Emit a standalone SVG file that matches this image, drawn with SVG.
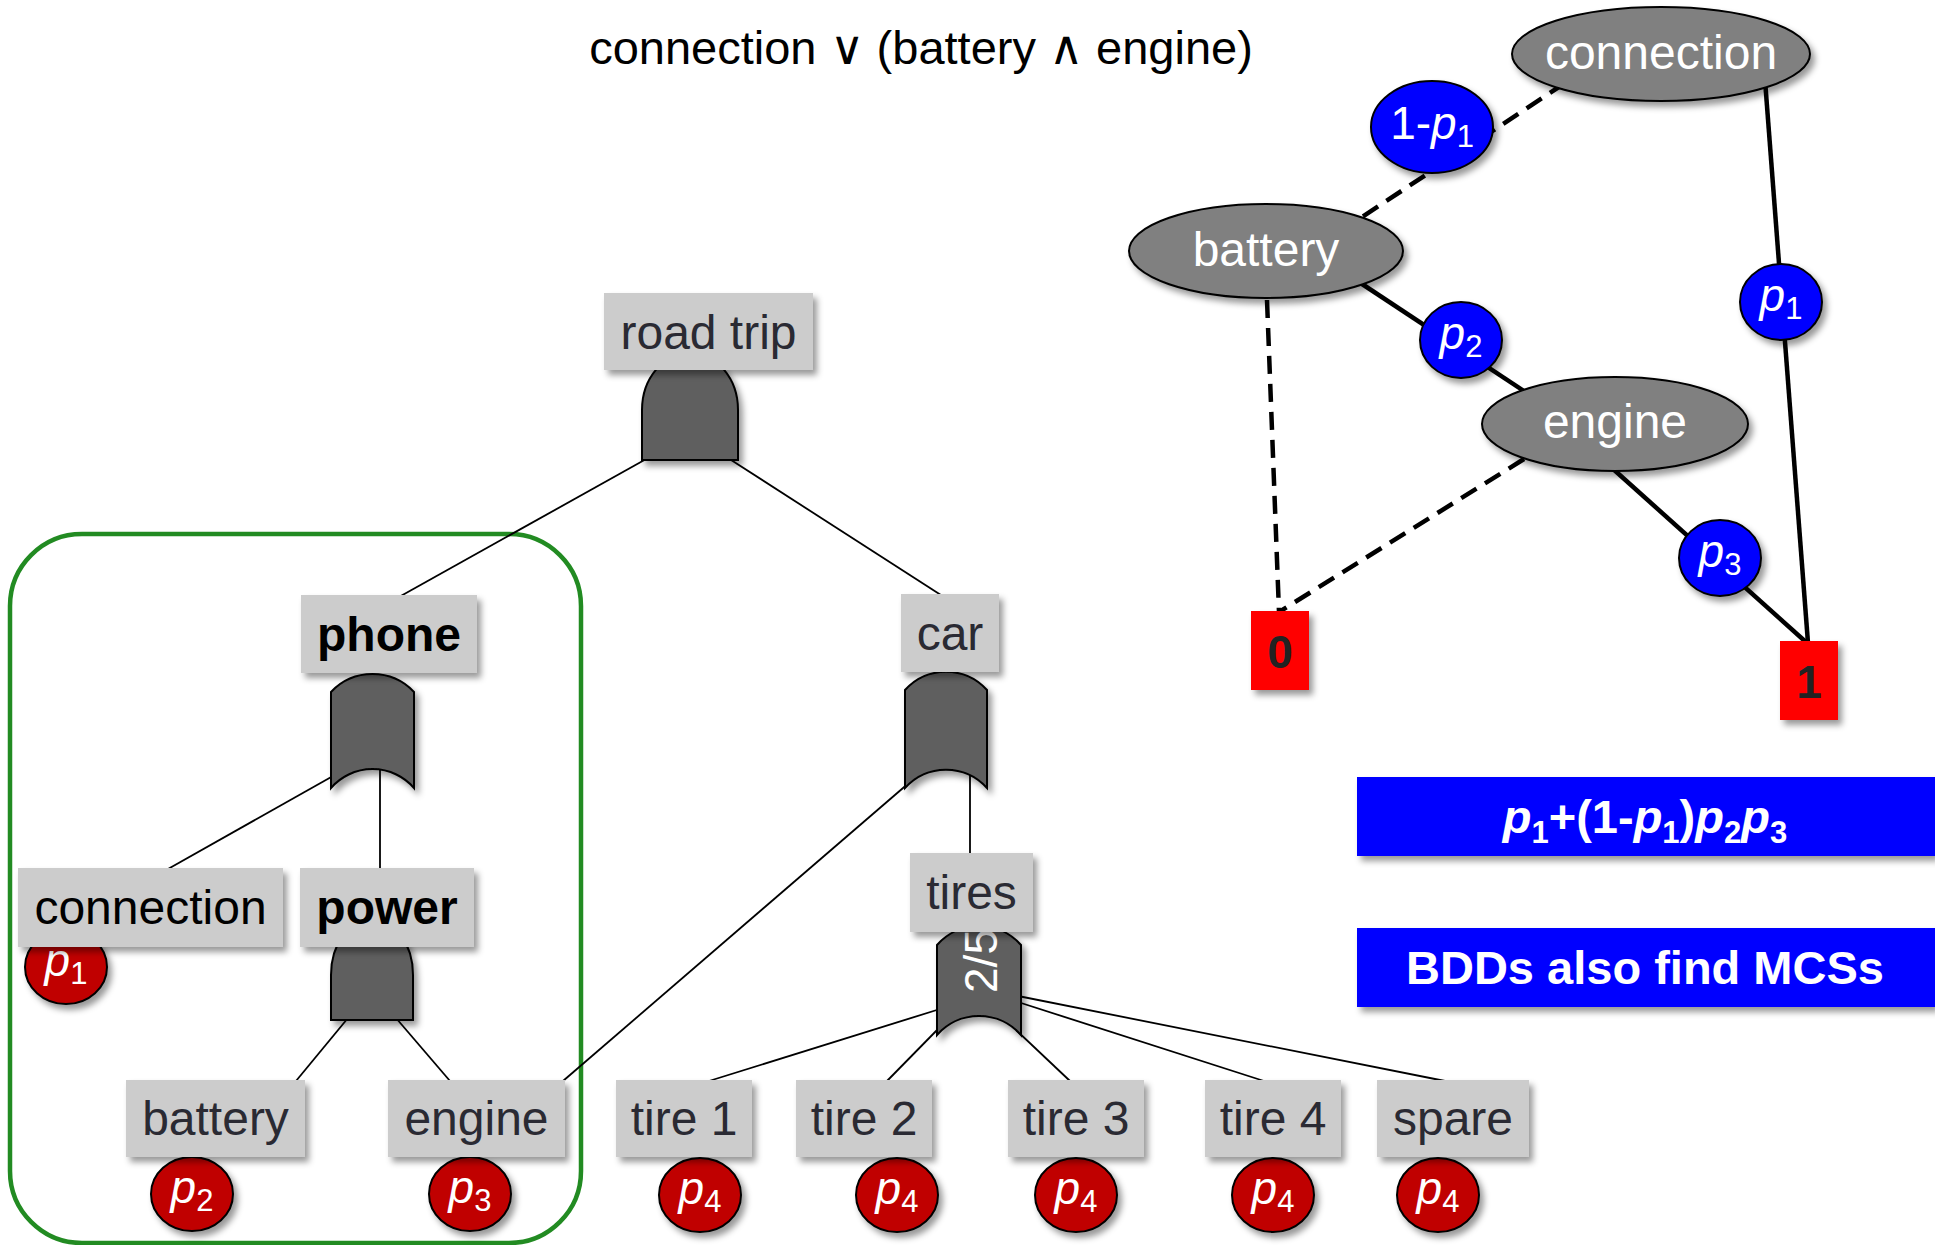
<svg xmlns="http://www.w3.org/2000/svg" width="1935" height="1245" viewBox="0 0 1935 1245">
  <defs>
    <filter id="shadow" x="-20%" y="-20%" width="150%" height="160%">
      <feDropShadow dx="4" dy="5" stdDeviation="3" flood-color="#000" flood-opacity="0.4"/>
    </filter>
  </defs>
  <style>
    text { font-family: "Liberation Sans", Arial, sans-serif; }
    .lbl { fill: #cccccc; filter: url(#shadow); }
    .lbltxt { font-size: 48px; fill: #2a2a33; text-anchor: middle; }
    .bold { font-weight: bold; fill: #000; }
    .gate { fill: #5f5f5f; stroke: #000; stroke-width: 2; filter: url(#shadow); }
    .ft { stroke: #000; stroke-width: 1.8; fill: none; }
    .basic { fill: #c00000; stroke: #000; stroke-width: 2; filter: url(#shadow); }
    .ptxt { font-size: 46px; fill: #fff; text-anchor: middle; }
    .pi { font-style: italic; }
    .sub { font-size: 31px; }
    .bddnode { fill: #808080; stroke: #000; stroke-width: 2; filter: url(#shadow); }
    .bddtxt { font-size: 48px; fill: #fff; text-anchor: middle; }
    .prob { fill: #0000ff; stroke: #000; stroke-width: 2; filter: url(#shadow); }
    .hi { stroke: #000; stroke-width: 4.5; fill: none; }
    .lo { stroke: #000; stroke-width: 4.5; fill: none; stroke-dasharray: 18 10; }
    .term { fill: #ff0000; filter: url(#shadow); }
    .termtxt { font-size: 46px; font-weight: bold; fill: #222; text-anchor: middle; }
    .note { fill: #0000ff; filter: url(#shadow); }
    .notetxt { font-size: 47px; font-weight: bold; fill: #fff; text-anchor: middle; }
    .module { fill: none; stroke: #228b22; stroke-width: 4.5; }
  </style>

  <rect width="1935" height="1245" fill="#fff"/>

  <!-- formula heading -->
  <text id="title" x="921" y="64" font-size="47" fill="#000" text-anchor="middle">connection ∨ (battery ∧ engine)</text>

  <!-- module boundary around the phone subtree -->
  <rect id="phone-module" class="module" x="10" y="534" width="571" height="709" rx="72" ry="72"/>

  <!-- fault tree connectors -->
  <g id="ft-connectors">
    <line class="ft" x1="648" y1="458" x2="399" y2="597"/>
    <line class="ft" x1="728" y1="458" x2="944" y2="597"/>
    <line class="ft" x1="333" y1="776" x2="168" y2="869"/>
    <line class="ft" x1="380" y1="770" x2="380" y2="869"/>
    <line class="ft" x1="348" y1="1018" x2="296" y2="1081"/>
    <line class="ft" x1="396" y1="1018" x2="450" y2="1081"/>
    <line class="ft" x1="910" y1="782" x2="563" y2="1081"/>
    <line class="ft" x1="970" y1="770" x2="970" y2="854"/>
    <line class="ft" x1="940" y1="1009" x2="709" y2="1081"/>
    <line class="ft" x1="940" y1="1027" x2="887" y2="1081"/>
    <line class="ft" x1="1016" y1="1030" x2="1070" y2="1081"/>
    <line class="ft" x1="1018" y1="1002" x2="1264" y2="1081"/>
    <line class="ft" x1="1018" y1="996" x2="1445" y2="1081"/>
  </g>

  <!-- BDD edges: solid = high branch, dashed = low branch -->
  <g id="bdd-connectors">
    <line class="lo" x1="1565" y1="83" x2="1356" y2="221"/>
    <line class="hi" x1="1765" y1="80" x2="1808" y2="643"/>
    <line class="hi" x1="1356" y1="280" x2="1530" y2="395"/>
    <line class="lo" x1="1267" y1="300" x2="1279" y2="612"/>
    <line class="lo" x1="1524" y1="459" x2="1279" y2="612"/>
    <line class="hi" x1="1612" y1="468" x2="1807" y2="643"/>
  </g>

  <!-- fault tree nodes -->
  <g id="road-trip">
    <path class="gate" d="M642,460 L642,410 A48,57 0 0 1 738,410 L738,460 Z"/>
    <rect class="lbl" x="604" y="293" width="209" height="77"/>
    <text class="lbltxt" x="708.5" y="349">road trip</text>
  </g>

  <g id="phone">
    <path class="gate" d="M331,692 A57,57 0 0 1 414,692 L414,788 A55,55 0 0 0 331,788 Z"/>
    <rect class="lbl" x="301" y="595" width="176" height="78"/>
    <text class="lbltxt bold" x="389" y="651">phone</text>
  </g>

  <g id="connection">
    <ellipse class="basic" cx="66" cy="967" rx="41" ry="37"/>
    <text class="ptxt" x="66" y="976"><tspan class="pi">p</tspan><tspan class="sub" dy="8">1</tspan></text>
    <rect class="lbl" x="18" y="868" width="265" height="79"/>
    <text class="lbltxt" x="150.5" y="924" style="fill:#000">connection</text>
  </g>

  <g id="power">
    <path class="gate" d="M331,1020 L331,975 A41,56 0 0 1 413,975 L413,1020 Z"/>
    <rect class="lbl" x="300" y="868" width="174" height="79"/>
    <text class="lbltxt bold" x="387" y="924">power</text>
  </g>

  <g id="battery">
    <ellipse class="basic" cx="192" cy="1194" rx="41" ry="37"/>
    <text class="ptxt" x="192" y="1203"><tspan class="pi">p</tspan><tspan class="sub" dy="8">2</tspan></text>
    <rect class="lbl" x="126" y="1080" width="179" height="77"/>
    <text class="lbltxt" x="215.5" y="1135">battery</text>
  </g>

  <g id="engine">
    <ellipse class="basic" cx="470" cy="1194" rx="41" ry="37"/>
    <text class="ptxt" x="470" y="1203"><tspan class="pi">p</tspan><tspan class="sub" dy="8">3</tspan></text>
    <rect class="lbl" x="388" y="1080" width="177" height="77"/>
    <text class="lbltxt" x="476.5" y="1135">engine</text>
  </g>

  <g id="car">
    <path class="gate" d="M905,690 A55,55 0 0 1 987,690 L987,788 A55,55 0 0 0 905,788 Z"/>
    <rect class="lbl" x="901" y="594" width="98" height="78"/>
    <text class="lbltxt" x="950" y="650">car</text>
  </g>

  <g id="tires">
    <path class="gate" d="M937,945 A56,56 0 0 1 1021,945 L1021,1035 A56,56 0 0 0 937,1035 Z"/>
    <text transform="translate(997,961) rotate(-90)" font-size="46" fill="#fff" text-anchor="middle">2/5</text>
    <rect class="lbl" x="910" y="853" width="123" height="79"/>
    <text class="lbltxt" x="971.5" y="909">tires</text>
  </g>

  <g id="tire-1">
    <ellipse class="basic" cx="700" cy="1195" rx="41" ry="37"/>
    <text class="ptxt" x="700" y="1204"><tspan class="pi">p</tspan><tspan class="sub" dy="8">4</tspan></text>
    <rect class="lbl" x="616" y="1080" width="136" height="77"/>
    <text class="lbltxt" x="684" y="1135">tire 1</text>
  </g>

  <g id="tire-2">
    <ellipse class="basic" cx="897" cy="1195" rx="41" ry="37"/>
    <text class="ptxt" x="897" y="1204"><tspan class="pi">p</tspan><tspan class="sub" dy="8">4</tspan></text>
    <rect class="lbl" x="796" y="1080" width="136" height="77"/>
    <text class="lbltxt" x="864" y="1135">tire 2</text>
  </g>

  <g id="tire-3">
    <ellipse class="basic" cx="1076" cy="1195" rx="41" ry="37"/>
    <text class="ptxt" x="1076" y="1204"><tspan class="pi">p</tspan><tspan class="sub" dy="8">4</tspan></text>
    <rect class="lbl" x="1008" y="1080" width="136" height="77"/>
    <text class="lbltxt" x="1076" y="1135">tire 3</text>
  </g>

  <g id="tire-4">
    <ellipse class="basic" cx="1273" cy="1195" rx="41" ry="37"/>
    <text class="ptxt" x="1273" y="1204"><tspan class="pi">p</tspan><tspan class="sub" dy="8">4</tspan></text>
    <rect class="lbl" x="1205" y="1080" width="136" height="77"/>
    <text class="lbltxt" x="1273" y="1135">tire 4</text>
  </g>

  <g id="spare">
    <ellipse class="basic" cx="1438" cy="1195" rx="41" ry="37"/>
    <text class="ptxt" x="1438" y="1204"><tspan class="pi">p</tspan><tspan class="sub" dy="8">4</tspan></text>
    <rect class="lbl" x="1377" y="1080" width="152" height="77"/>
    <text class="lbltxt" x="1453" y="1135">spare</text>
  </g>

  <!-- BDD nodes -->
  <g id="bdd-connection">
    <ellipse class="bddnode" cx="1661" cy="54" rx="149" ry="47"/>
    <text class="bddtxt" x="1661" y="69">connection</text>
  </g>
  <g id="bdd-battery">
    <ellipse class="bddnode" cx="1266" cy="251" rx="137" ry="47"/>
    <text class="bddtxt" x="1266" y="266">battery</text>
  </g>
  <g id="bdd-engine">
    <ellipse class="bddnode" cx="1615" cy="424" rx="133" ry="47"/>
    <text class="bddtxt" x="1615" y="438">engine</text>
  </g>

  <!-- branch probabilities -->
  <g id="prob-not-p1">
    <ellipse class="prob" cx="1432" cy="127" rx="61" ry="46"/>
    <text class="ptxt" x="1432" y="139">1-<tspan class="pi">p</tspan><tspan class="sub" dy="8">1</tspan></text>
  </g>
  <g id="prob-p1">
    <ellipse class="prob" cx="1781" cy="302" rx="41" ry="38"/>
    <text class="ptxt" x="1781" y="311"><tspan class="pi">p</tspan><tspan class="sub" dy="8">1</tspan></text>
  </g>
  <g id="prob-p2">
    <ellipse class="prob" cx="1461" cy="340" rx="41" ry="38"/>
    <text class="ptxt" x="1461" y="349"><tspan class="pi">p</tspan><tspan class="sub" dy="8">2</tspan></text>
  </g>
  <g id="prob-p3">
    <ellipse class="prob" cx="1720" cy="558" rx="41" ry="38"/>
    <text class="ptxt" x="1720" y="567"><tspan class="pi">p</tspan><tspan class="sub" dy="8">3</tspan></text>
  </g>

  <!-- terminals -->
  <g id="terminal-0">
    <rect class="term" x="1251" y="611" width="58" height="79"/>
    <text class="termtxt" x="1280" y="668">0</text>
  </g>
  <g id="terminal-1">
    <rect class="term" x="1780" y="641" width="58" height="79"/>
    <text class="termtxt" x="1809" y="698">1</text>
  </g>

  <!-- result boxes -->
  <g id="result-formula">
    <rect class="note" x="1357" y="777" width="578" height="79"/>
    <text class="notetxt" x="1645" y="833"><tspan class="pi">p</tspan><tspan class="sub" dy="10">1</tspan><tspan dy="-10">+(1-</tspan><tspan class="pi">p</tspan><tspan class="sub" dy="10">1</tspan><tspan dy="-10">)</tspan><tspan class="pi">p</tspan><tspan class="sub" dy="10">2</tspan><tspan class="pi" dy="-10">p</tspan><tspan class="sub" dy="10">3</tspan></text>
  </g>
  <g id="result-mcs">
    <rect class="note" x="1357" y="928" width="578" height="79"/>
    <text class="notetxt" x="1645" y="984">BDDs also find MCSs</text>
  </g>
</svg>
